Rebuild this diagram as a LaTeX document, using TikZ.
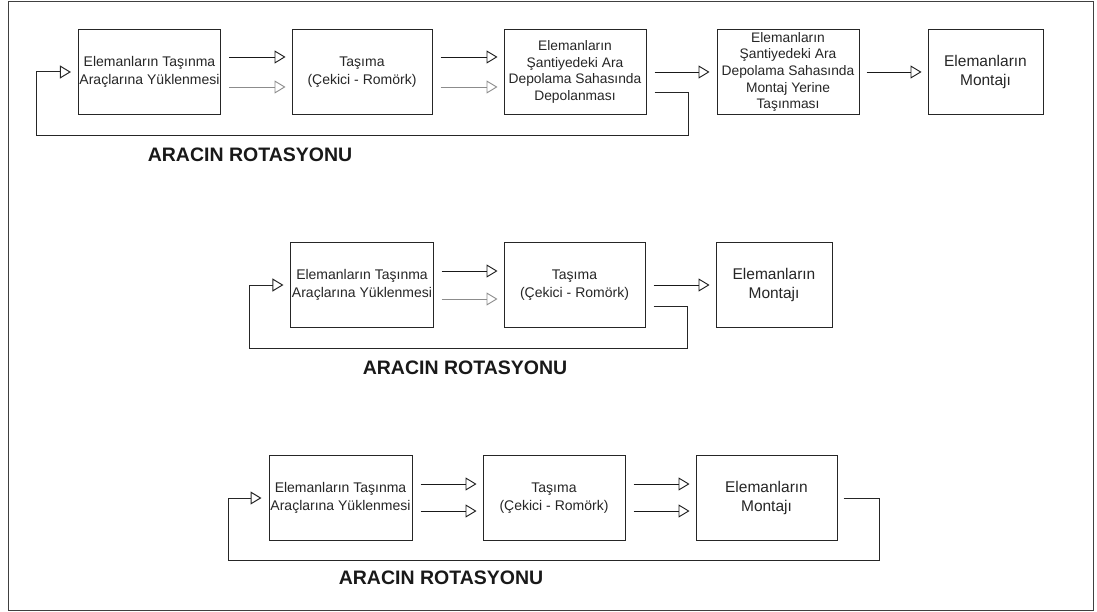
\documentclass[tikz,border=0pt]{standalone}
\usepackage{fontspec}
\setmainfont{Liberation Sans}
\usetikzlibrary{arrows.meta,calc}
\begin{document}
\begin{tikzpicture}[x=1pt,y=-1pt,
  box/.style={draw=black!85,line width=1pt,fill=white,align=center,inner sep=1pt,
    font=\fontsize{14}{18.5}\selectfont,text=black!85,minimum height=85pt},
  tight/.style={font=\fontsize{13.8}{16.6}\selectfont},
  big/.style={font=\fontsize{15.5}{19.5}\selectfont},
  arr/.style={line width=0.9pt,draw=black!90,-{Triangle[open,length=11pt,width=13pt]}},
  arrg/.style={line width=0.9pt,draw=black!45,-{Triangle[open,length=11pt,width=13pt]}},
  fb/.style={line width=1pt,draw=black!85,-{Triangle[open,length=11pt,width=13pt]}},
  lab/.style={font=\fontsize{19.5}{23}\bfseries\selectfont,text=black!90}]
\useasboundingbox (0,0) rectangle (1097,612);
\draw[black!75,line width=1pt] (8,2) rectangle (1093,610);

% Row 1
\node[box,minimum width=141pt] (a1) at (149.5,72) {Elemanların Taşınma\\Araçlarına Yüklenmesi};
\node[box,minimum width=140pt] (b1) at (362,72) {Taşıma\\(Çekici - Romörk)};
\node[box,tight,minimum width=142pt] (c1) at (575,72) {Elemanların\\Şantiyedeki Ara\\Depolama Sahasında\\Depolanması};
\node[box,tight,minimum width=142pt] (d1) at (788,72) {Elemanların\\Şantiyedeki Ara\\Depolama Sahasında\\Montaj Yerine\\Taşınması};
\node[box,big,minimum width=115pt] (e1) at (985.5,72) {Elemanların\\Montajı};
\draw[arr] ([xshift=8pt,yshift=15pt]a1.east) -- ([xshift=-6pt,yshift=15pt]b1.west);
\draw[arrg] ([xshift=8pt,yshift=-15pt]a1.east) -- ([xshift=-6pt,yshift=-15pt]b1.west);
\draw[arr] ([xshift=8pt,yshift=15pt]b1.east) -- ([xshift=-6pt,yshift=15pt]c1.west);
\draw[arrg] ([xshift=8pt,yshift=-15pt]b1.east) -- ([xshift=-6pt,yshift=-15pt]c1.west);
\draw[arr] ([xshift=8pt]c1.east) -- ([xshift=-7pt]d1.west);
\draw[arr] ([xshift=7pt]d1.east) -- ([xshift=-6pt]e1.west);
\coordinate (r1a) at (688,136);
\coordinate (r1b) at (36,72);
\draw[fb] ([xshift=8pt,yshift=-21pt]c1.east) -| (r1a) -| (r1b) -- ([xshift=-7pt]a1.west);
\node[lab] (l1) at (250,155) {ARACIN ROTASYONU};

% Row 2
\node[box,minimum width=142pt] (a2) at (362,285) {Elemanların Taşınma\\Araçlarına Yüklenmesi};
\node[box,minimum width=141pt] (b2) at (574.5,285) {Taşıma\\(Çekici - Romörk)};
\node[box,big,minimum width=116pt] (c2) at (774,285) {Elemanların\\Montajı};
\draw[arr] ([xshift=8pt,yshift=14pt]a2.east) -- ([xshift=-6pt,yshift=14pt]b2.west);
\draw[arrg] ([xshift=8pt,yshift=-14pt]a2.east) -- ([xshift=-6pt,yshift=-14pt]b2.west);
\draw[arr] ([xshift=8pt]b2.east) -- ([xshift=-6pt]c2.west);
\coordinate (r2a) at (687,348);
\coordinate (r2b) at (249,285);
\draw[fb] ([xshift=8pt,yshift=-21pt]b2.east) -| (r2a) -| (r2b) -- ([xshift=-7pt]a2.west);
\node[lab] (l2) at (465,368) {ARACIN ROTASYONU};

% Row 3
\node[box,minimum width=143pt] (a3) at (340.5,498) {Elemanların Taşınma\\Araçlarına Yüklenmesi};
\node[box,minimum width=142pt] (b3) at (554,498) {Taşıma\\(Çekici - Romörk)};
\node[box,big,minimum width=141pt] (c3) at (766.5,498) {Elemanların\\Montajı};
\draw[arr] ([xshift=8pt,yshift=14pt]a3.east) -- ([xshift=-6pt,yshift=14pt]b3.west);
\draw[arr] ([xshift=8pt,yshift=-13pt]a3.east) -- ([xshift=-6pt,yshift=-13pt]b3.west);
\draw[arr] ([xshift=8pt,yshift=14pt]b3.east) -- ([xshift=-6pt,yshift=14pt]c3.west);
\draw[arr] ([xshift=8pt,yshift=-13pt]b3.east) -- ([xshift=-6pt,yshift=-13pt]c3.west);
\coordinate (r3a) at (879,560);
\coordinate (r3b) at (228,498);
\draw[fb] ([xshift=6pt]c3.east) -| (r3a) -| (r3b) -- ([xshift=-7pt]a3.west);
\node[lab] (l3) at (441,578) {ARACIN ROTASYONU};
\end{tikzpicture}
\end{document}
